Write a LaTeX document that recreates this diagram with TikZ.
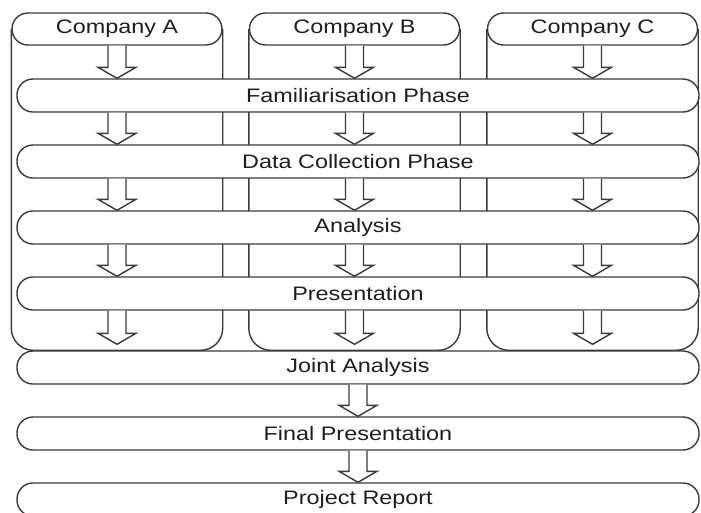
\documentclass[tikz,border=0pt]{standalone}
\usepackage{fontspec}
\setmainfont{Liberation Sans}[FakeStretch=1.2]
\usetikzlibrary{calc,backgrounds}
\definecolor{linec}{HTML}{3A3A3A}
\definecolor{textc}{HTML}{1E1E1E}
\tikzset{
  lbl/.style={font=\fontsize{19.5}{22}\selectfont, text=textc},
  header/.style={lbl, draw=linec, fill=white, rounded corners=16pt,
    minimum width=210pt, minimum height=32pt, inner sep=0pt},
  bar/.style={lbl, draw=linec, fill=white, rounded corners=16pt,
    minimum width=682pt, minimum height=33pt, inner sep=0pt},
  column/.style={draw=linec, line width=1.4pt, rounded corners=22pt},
  hollow/.style={draw=linec, fill=white, line join=miter,
    to path={let \p1=(\tikztostart), \p2=(\tikztotarget) in
      ({\x1-9pt},{\y1}) -- ({\x1-9pt},{\y2+11pt}) -- ({\x1-19pt},{\y2+11pt})
      -- (\x2,\y2) -- ({\x1+19pt},{\y2+11pt}) -- ({\x1+9pt},{\y2+11pt})
      -- ({\x1+9pt},{\y1})}}
}
\begin{document}
\begin{tikzpicture}[x=1pt, y=-1pt, line width=1.4pt]
  \useasboundingbox (0,0) rectangle (701,512);
  \clip (0,0) rectangle (701,512);

  % company headers
  \node[header] (hA) at (117,29) {Company A};
  \node[header] (hB) at (354.5,29) {Company B};
  \node[header] (hC) at (592.5,29) {Company C};

  % phase bars
  \node[bar] (fam)   at (358,95.5)  {Familiarisation Phase};
  \node[bar] (data)  at (358,161.5) {Data Collection Phase};
  \node[bar] (anal)  at (358,227.5) {Analysis};
  \node[bar] (pres)  at (358,293.5) {Presentation};
  \node[bar] (joint) at (358,367.5) {Joint Analysis};
  \node[bar] (final) at (358,433.5) {Final Presentation};
  \node[bar] (rep)   at (358,499.5) {Project Report};

  % company columns behind everything
  \begin{scope}[on background layer]
    \foreach \h in {hA,hB,hC}
      \draw[column] (\h.west) -- (\h.west |- joint.north)
        -- (\h.east |- joint.north) -- (\h.east);
  \end{scope}

  % block arrows down each company column
  \foreach \h in {hA,hB,hC} {
    \draw[hollow] (\h.south) to (fam.north -| \h.south);
    \draw[hollow] (fam.south -| \h.south) to (data.north -| \h.south);
    \draw[hollow] (data.south -| \h.south) to (anal.north -| \h.south);
    \draw[hollow] (anal.south -| \h.south) to (pres.north -| \h.south);
    \draw[hollow] (pres.south -| \h.south) to ([yshift=6pt]joint.north -| \h.south);
  }

  % joint phases
  \draw[hollow] (joint.south) to (final.north);
  \draw[hollow] (final.south) to (rep.north);
\end{tikzpicture}
\end{document}
